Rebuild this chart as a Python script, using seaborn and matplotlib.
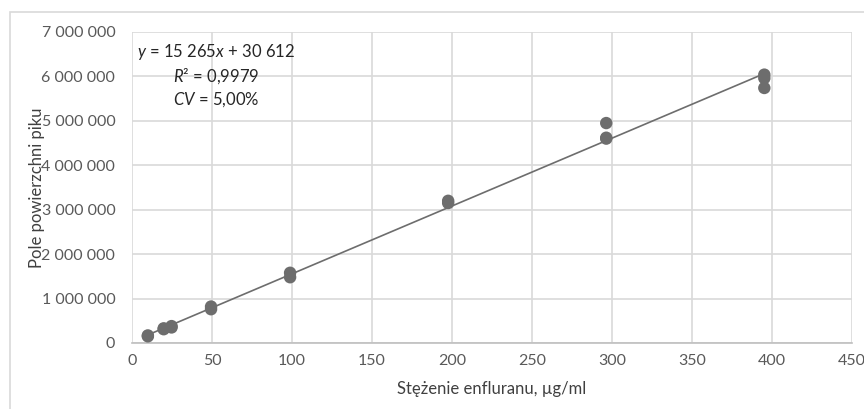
import matplotlib
matplotlib.use("Agg")
import matplotlib.pyplot as plt
from matplotlib.patches import Rectangle
from matplotlib.ticker import FuncFormatter, MultipleLocator
import numpy as np
import pandas as pd
import seaborn as sns

# Calibration data: enflurane concentration vs. peak area (duplicates/triplicates)
conc = [9.9, 9.9, 19.8, 19.8, 24.7, 24.7, 49.4, 49.4, 98.8, 98.8,
        197.6, 197.6, 296.4, 296.4, 296.4, 395.2, 395.2, 395.2]
area = [170000, 150000, 330000, 310000, 380000, 350000, 820000, 760000,
        1580000, 1480000, 3200000, 3150000, 4950000, 4620000, 4600000,
        6040000, 5960000, 5740000]

slope = 15265
intercept = 30612
r2_text = "0,9979"
cv_text = "5,00%"

x_ticks = [0, 50, 100, 150, 200, 250, 300, 350, 400, 450]
y_max = 7000000

df = pd.DataFrame({"conc": conc, "area": area})

sns.set_theme(style="white")
plt.rcParams["font.family"] = ["Lato", "DejaVu Sans"]
plt.rcParams["mathtext.fontset"] = "custom"
plt.rcParams["mathtext.rm"] = "Lato"
plt.rcParams["mathtext.it"] = "Lato:italic"

fig = plt.figure(figsize=(8.64, 4.09), dpi=100)
ax = fig.add_axes([0.1528, 0.1614, 0.8333, 0.7604])

# outer chart frame
fig.patches.append(Rectangle((10 / 864, -0.05), 1.1, 1 - 12 / 409 + 0.05,
                             transform=fig.transFigure, fill=False,
                             edgecolor="#d9d9d9", linewidth=1.2))

sns.scatterplot(data=df, x="conc", y="area", ax=ax, s=80, color="#6d6d6d",
                edgecolor="none", zorder=3)

xl = np.array([min(conc), max(conc)])
sns.lineplot(x=xl, y=slope * xl + intercept, ax=ax, color="#6d6d6d",
             linewidth=1.2, zorder=2)

ax.set_xlim(0, 450)
ax.set_ylim(0, y_max)
ax.set_xticks(x_ticks)
ax.yaxis.set_major_locator(MultipleLocator(1000000))
ax.yaxis.set_major_formatter(FuncFormatter(lambda v, p: f"{int(v):,}".replace(",", " ")))
ax.grid(True, color="#d9d9d9", linewidth=1.2)
ax.set_axisbelow(True)
for s in ["top", "right", "left"]:
    ax.spines[s].set_visible(False)
ax.spines["bottom"].set_color("#bfbfbf")
ax.spines["bottom"].set_linewidth(1.2)
ax.tick_params(axis="both", length=0, labelsize=11.5, colors="#595959", pad=8)
ax.tick_params(axis="y", pad=12)

ax.set_xlabel("Stężenie enfluranu, µg/ml", fontsize=12, color="#404040", labelpad=9)
ax.set_ylabel("Pole powierzchni piku", fontsize=12, color="#404040")
ax.yaxis.set_label_coords(-0.121, 0.5)

ax.text(52.5, 6540000, f"$y$ = {slope // 1000} {slope % 1000:03d}$x$ + {intercept // 1000} {intercept % 1000:03d}",
        ha="center", va="center", fontsize=12, color="#262626")
ax.text(52.5, 6000000, f"$R$² = {r2_text}", ha="center", va="center",
        fontsize=12, color="#262626")
ax.text(52.5, 5480000, f"$CV$ = {cv_text}", ha="center", va="center",
        fontsize=12, color="#262626")

fig.savefig("out.png", dpi=100, facecolor="white")
